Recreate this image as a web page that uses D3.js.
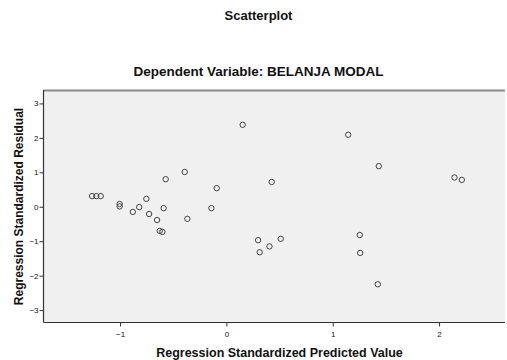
<!DOCTYPE html>
<html>
<head>
<meta charset="utf-8">
<script src="https://cdn.jsdelivr.net/npm/d3@7"></script>
<style>
  body { margin: 0; background: #fff; }
  svg text { font-family: "Liberation Sans", Arial, sans-serif; fill: #111; }
</style>
</head>
<body>
<svg id="chart" width="507" height="360"></svg>
<script>
// standardized predicted values (x) and residuals (y)
const predicted = [-1.263, -1.223, -1.182, -1.004, -1.004, -0.88, -0.82, -0.753, -0.727, -0.652,
    -0.627, -0.602, -0.59, -0.571, -0.392, -0.367, -0.141, -0.091, 0.153, 0.298,
    0.313, 0.405, 0.426, 0.511, 1.145, 1.433, 2.145, 2.214, 1.254, 1.258, 1.424];
const residual = [0.31, 0.31, 0.31, 0.08, 0.01, -0.15, -0.01, 0.23, -0.21, -0.385,
    -0.70, -0.73, -0.04, 0.80, 1.01, -0.35, -0.04, 0.54, 2.38, -0.97,
    -1.32, -1.15, 0.72, -0.93, 2.09, 1.18, 0.85, 0.78, -0.82, -1.34, -2.25];
const xTicks = [-1, 0, 1, 2];
const yTicks = [-3, -2, -1, 0, 1, 2, 3];

const svg = d3.select('#chart');
const plot = { left: 43.5, right: 505, top: 90, bottom: 322.5 };

const x = d3.scaleLinear().domain([-1.72, 2.62]).range([plot.left, plot.right]);
const y = d3.scaleLinear().domain([-3.36, 3.39]).range([plot.bottom, plot.top]);

svg.append('text')
    .attr('x', 258.5).attr('y', 19.5)
    .attr('text-anchor', 'middle')
    .style('font-size', '13px').style('font-weight', 'bold')
    .text('Scatterplot');

svg.append('text')
    .attr('x', 258.5).attr('y', 75.5)
    .attr('text-anchor', 'middle')
    .style('font-size', '13.5px').style('font-weight', 'bold')
    .text('Dependent Variable: BELANJA MODAL');

svg.append('rect')
    .attr('x', plot.left).attr('y', plot.top)
    .attr('width', plot.right - plot.left).attr('height', plot.bottom - plot.top)
    .attr('fill', '#f0f0f0');

svg.append('line')
    .attr('x1', plot.left).attr('x2', plot.right)
    .attr('y1', plot.top + 0.5).attr('y2', plot.top + 0.5)
    .attr('stroke', '#8a8a8a').attr('stroke-width', 2);

const xAxis = d3.axisBottom(x).tickValues(xTicks).tickSize(4).tickFormat(d3.format('d'));
const yAxis = d3.axisLeft(y).tickValues(yTicks).tickSize(4).tickFormat(d3.format('d'));

const gx = svg.append('g')
    .attr('transform', 'translate(0,' + plot.bottom + ')')
    .call(xAxis);
const gy = svg.append('g')
    .attr('transform', 'translate(' + plot.left + ',0)')
    .call(yAxis);

[gx, gy].forEach(g => {
    g.select('.domain').attr('stroke', '#333').attr('stroke-width', 1.2);
    g.selectAll('.tick line').attr('stroke', '#333');
    g.selectAll('.tick text')
        .style('font-size', '8px')
        .style('font-family', '"Liberation Sans", Arial, sans-serif')
        .attr('fill', '#222');
});
gx.select('.domain').attr('d', 'M' + plot.left + ',0H' + plot.right);
gy.select('.domain').attr('d', 'M0,' + plot.top + 'V' + plot.bottom);
gx.selectAll('.tick text').attr('dy', '0.9em');
gy.selectAll('.tick text').attr('x', -5);

svg.append('text')
    .attr('x', 279.5).attr('y', 356.5)
    .attr('text-anchor', 'middle')
    .style('font-size', '12.5px').style('font-weight', 'bold')
    .text('Regression Standardized Predicted Value');

svg.append('text')
    .attr('transform', 'translate(22.5,206.5) rotate(-90)')
    .attr('text-anchor', 'middle')
    .style('font-size', '12px').style('font-weight', 'bold')
    .text('Regression Standardized Residual');

svg.append('g')
    .selectAll('circle')
    .data(predicted.map((p, i) => ({ p: p, r: residual[i] })))
    .enter()
    .append('circle')
    .attr('cx', d => x(d.p))
    .attr('cy', d => y(d.r))
    .attr('r', 2.7)
    .attr('fill', 'none')
    .attr('stroke', '#444')
    .attr('stroke-width', 1);
</script>
</body>
</html>
